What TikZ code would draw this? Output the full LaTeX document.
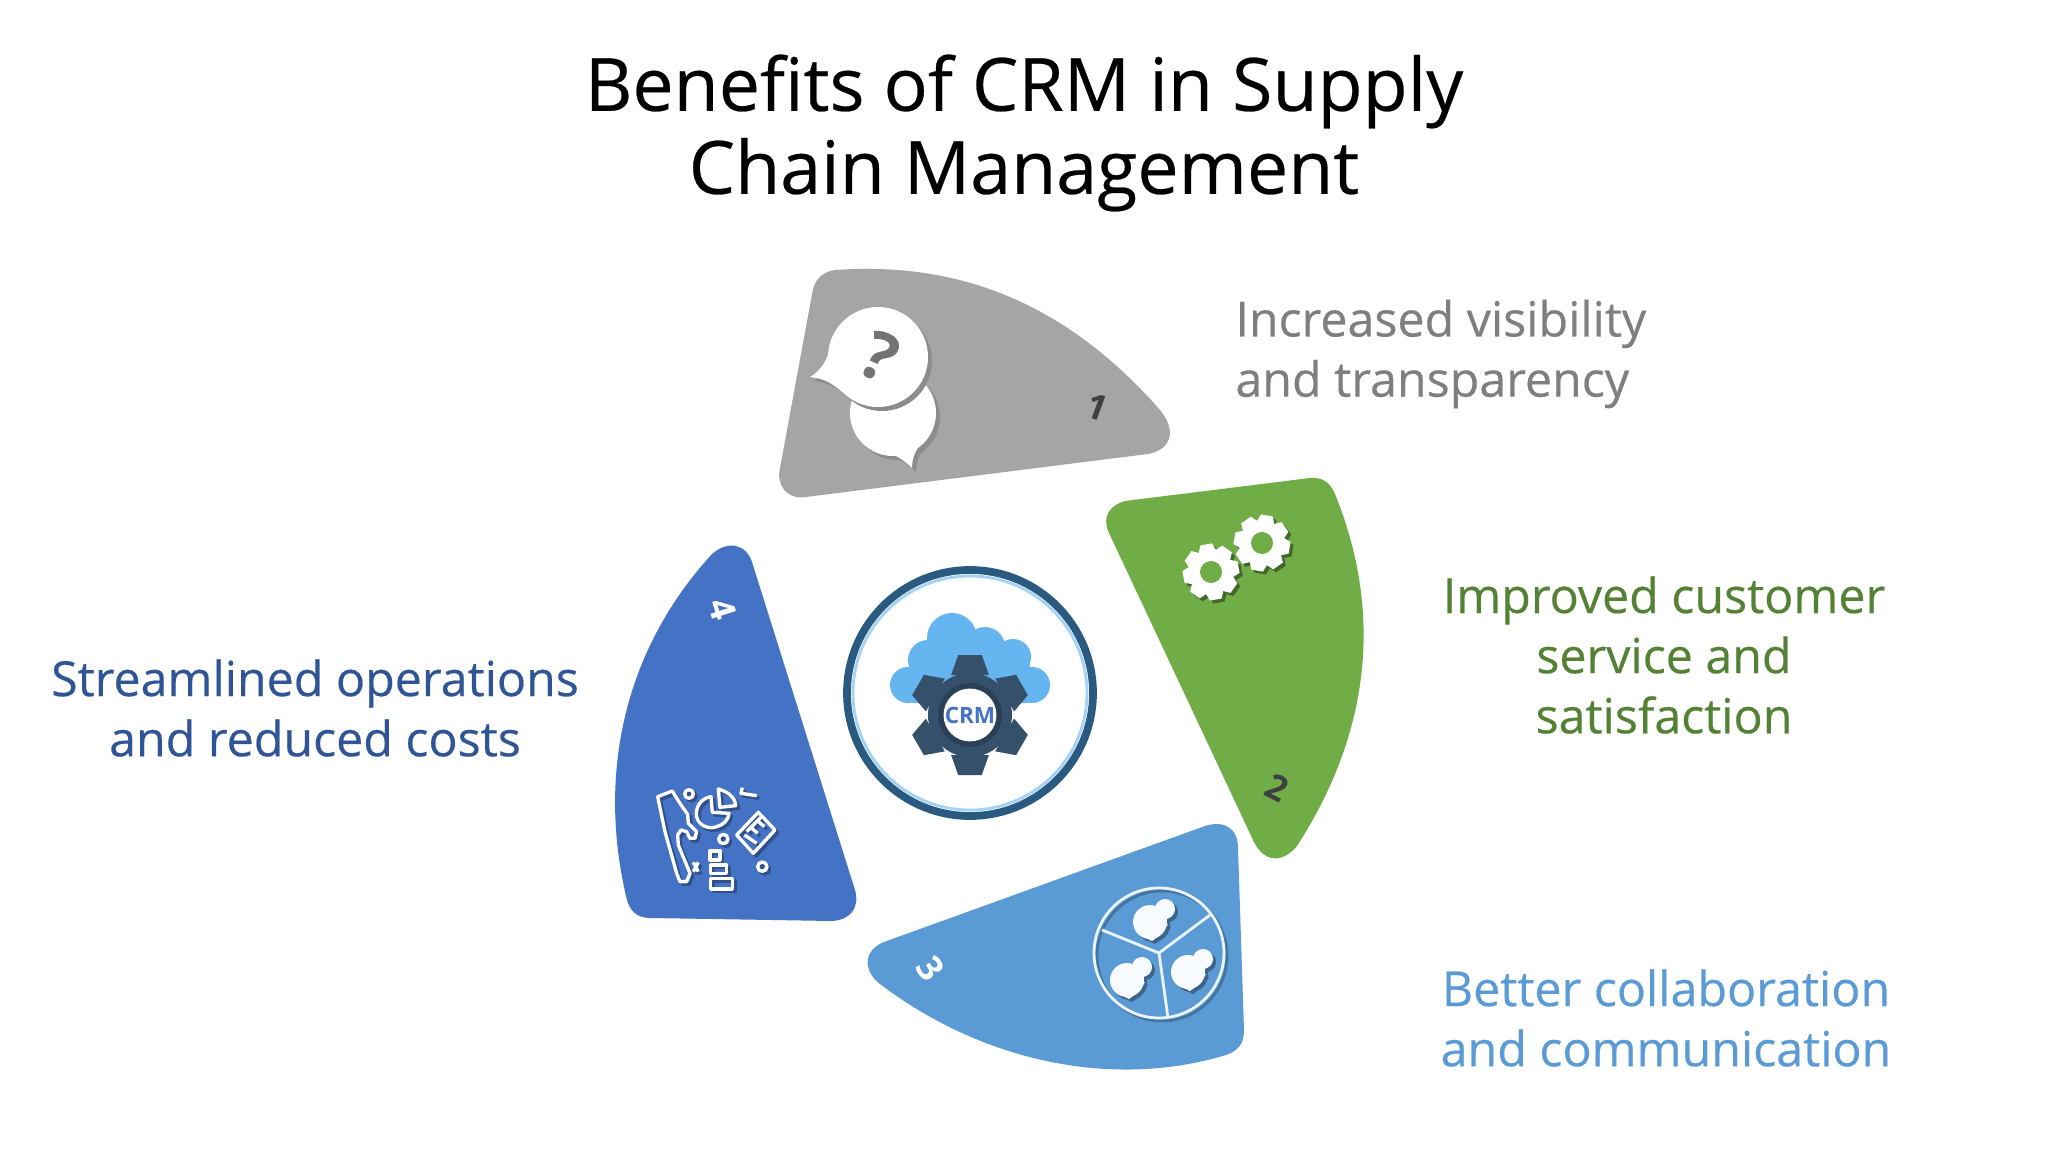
\documentclass[tikz,border=0pt]{standalone}
\usepackage{fontspec}
\setmainfont{Open Sans}
\newfontfamily\heavyfont{Open Sans}[FakeBold=0.35]
\usepackage{xcolor}
\definecolor{greyblade}{HTML}{A5A5A5}
\definecolor{greenblade}{HTML}{70AD47}
\definecolor{skyblade}{HTML}{5B9BD5}
\definecolor{navyblade}{HTML}{4472C4}
\definecolor{greytext}{HTML}{7F7F7F}
\definecolor{greentext}{HTML}{548235}
\definecolor{skytext}{HTML}{5B9BD5}
\definecolor{navytext}{HTML}{2F5597}
\definecolor{ringcol}{HTML}{2A5A80}
\definecolor{gearcol}{HTML}{34506B}
\definecolor{cloudcol}{HTML}{64B5F0}
\tikzset{
  labeltext/.style={align=center, font=\heavyfont\fontsize{13.75}{17.1}\selectfont},
  numtext/.style={font=\bfseries\fontsize{10}{12}\selectfont, inner sep=0pt},
  iconline/.style={line width=0.95pt, line join=round},
}
% x, y, outer radius, root radius, start angle, teeth, colour
\newcommand{\wheelicon}[7]{
  \pgfmathsetmacro{\wheelstep}{360/#6}
  \fill[#7] (#1,#2) circle (#4);
  \foreach \i in {1,...,#6} {
    \fill[#7, shift={(#1,#2)}, rotate=#5+\i*\wheelstep] (#4-2,-#4*0.45) -- (#3,-#4*0.28) -- (#3,#4*0.28) -- (#4-2,#4*0.45) -- cycle;
  }
}
\begin{document}
\begin{tikzpicture}[x=0.01cm, y=-0.01cm]
\useasboundingbox (0,0) rectangle (2048,1152);
\fill[white] (0,0) rectangle (2048,1152);

\node[font=\heavyfont\fontsize{20.9}{23.6}\selectfont, align=center] (title) at (1024,133) {Benefits of CRM in Supply\\Chain Management};

% blades
\fill[greyblade] (836,270) .. controls (950,262) and (1060,296) .. (1160,410)
  .. controls (1178,432) and (1170,450) .. (1148,454) -- (806,497)
  .. controls (786,500) and (776,484) .. (780,468) -- (813,289)
  .. controls (816,278) and (824,271) .. (836,270) -- cycle;
\fill[greenblade] (1125,501) -- (1310,478) .. controls (1322,477) and (1330,482) .. (1335,494)
  .. controls (1378,600) and (1378,720) .. (1297,846)
  .. controls (1282,864) and (1264,862) .. (1254,842) -- (1109,533)
  .. controls (1102,518) and (1108,506) .. (1125,501) -- cycle;
\fill[skyblade] (1205,826) .. controls (1224,820) and (1238,828) .. (1238,848) -- (1244,1030)
  .. controls (1244,1044) and (1238,1051) .. (1226,1055)
  .. controls (1110,1090) and (980,1060) .. (880,984)
  .. controls (862,970) and (864,950) .. (884,942) -- (1205,826) -- cycle;
\fill[navyblade] (712,554) .. controls (728,540) and (746,544) .. (752,562) -- (855,890)
  .. controls (860,908) and (850,920) .. (832,921) -- (650,918)
  .. controls (636,918) and (630,910) .. (627,900)
  .. controls (600,790) and (615,660) .. (712,554) -- cycle;

% numbers
\node[numtext, text=black!75, rotate=-20] (numone) at (1097,407) {1};
\node[numtext, text=black!75, rotate=-27] (numtwo) at (1277,788) {2};
\node[numtext, text=white, rotate=-55] (numthree) at (931,969) {3};
\node[numtext, text=white, rotate=-72] (numfour) at (723,609) {4};

% labels
\node[labeltext, text=greytext, align=left, anchor=west] (lblone) at (1223,354) {Increased visibility\\and transparency};
\node[labeltext, text=greentext] (lbltwo) at (1664,655) {Improved customer\\service and\\satisfaction};
\node[labeltext, text=skytext] (lblthree) at (1666,1018) {Better collaboration\\and communication};
\node[labeltext, text=navytext] (lblfour) at (315,708) {Streamlined operations\\and reduced costs};

% centre badge
\fill[white] (970,693) circle (127);
\draw[ringcol, line width=2.2pt] (970,693) circle (123);
\draw[cloudcol!60, line width=0.8pt] (970,693) circle (117);
\foreach \cx/\cy/\cr in {952/638/25, 985/647/20, 1013/657/18, 1032/685/18, 908/685/18, 928/660/20} {
  \fill[cloudcol] (\cx,\cy) circle (\cr);
}
\fill[cloudcol] (912,660) rectangle (1030,703);
\wheelicon{970}{715}{60}{42}{-90}{6}{gearcol}
\fill[gearcol!80!black] (970,715) circle (32);
\node[circle, fill=white, minimum size=0.46cm, inner sep=0pt, text=navyblade, font=\bfseries\fontsize{6.4}{7}\selectfont] (crm) at (970,715) {CRM};

% bubbles
\foreach \col/\off in {black!45/4, white/0} {
  \fill[\col, shift={(\off,\off)}] (893,413) circle (43);
  \fill[\col, shift={(\off,\off)}] (880,450) .. controls (896,454) and (906,462) .. (912,468) .. controls (912,460) and (914,452) .. (922,442) -- cycle;
}
\foreach \col/\off in {black!45/4, white/0} {
  \fill[\col, shift={(\off,\off)}] (878,357) circle (50);
  \fill[\col, shift={(\off,\off)}] (832,338) .. controls (830,358) and (820,372) .. (810,377) .. controls (820,378) and (830,381) .. (842,392) -- cycle;
}
\node[font=\bfseries\fontsize{19}{20}\selectfont, text=black!55, rotate=-25, inner sep=0pt] (ask) at (880,357) {?};

% gears
\foreach \col/\off in {greenblade!60!black/3, white/0} {
  \wheelicon{1211+\off}{572+\off}{28}{21}{10}{8}{\col}
  \wheelicon{1262+\off}{543+\off}{28}{21}{-10}{8}{\col}
}
\fill[greenblade] (1211,572) circle (11);
\fill[greenblade] (1262,543) circle (11);

% team wheel
\draw[skyblade!75!black, line width=0.8pt] (1162,956) circle (65);
\draw[white!88!skyblade, line width=0.8pt] (1159,953) circle (65);
\draw[white!88!skyblade, line width=0.8pt] (1102,930) -- (1159,953) -- (1210,915) (1159,953) -- (1168,1018);
\foreach \col/\off in {skyblade!65!black/3, white!96!skyblade/0} {
  \foreach \px/\py in {1150/922, 1127/980, 1188/972} {
    \fill[\col, shift={(\off,\off)}] (\px+15,\py-13) circle (10);
    \fill[\col, shift={(\off,\off)}] (\px,\py) circle (17);
    \fill[\col, shift={(\off,\off)}] (\px-16,\py+5) .. controls (\px-8,\py+12) and (\px-4,\py+17) .. (\px+2,\py+19) .. controls (\px+8,\py+15) and (\px+14,\py+9) .. (\px+18,\py+2) -- cycle;
    \fill[\col, shift={(\off,\off)}] (\px+4,\py-16) -- (\px+18,\py-6) -- (\px+14,\py+8) -- (\px,\py) -- cycle;
  }
}

% hand and chart
\foreach \col/\off in {navyblade!70!black/8, white/0} {
\begin{scope}[shift={(645,775)}, scale=0.3333, shift={(\off,\off)}]
  \draw[\col, iconline] (38,65) -- (82,48) -- (105,85) -- (128,118) -- (130,145) -- (155,170) -- (150,190) -- (135,190) -- (125,170) -- (108,165) -- (98,180) -- (100,210) -- (135,295) -- (125,320) -- (105,320) -- (95,295) -- (60,170) -- cycle;
  \draw[\col, iconline] (132,57) circle (13) (235,192) circle (14) (352,275) circle (14);
  \draw[\col, iconline] (198,65) .. controls (165,70) and (150,100) .. (155,125) .. controls (160,150) and (190,165) .. (215,155) .. controls (235,150) and (250,135) .. (252,115) -- (202,112) -- cycle;
  \draw[\col, iconline] (220,42) .. controls (250,50) and (272,70) .. (272,92) -- (225,97) -- cycle;
  \draw[\col, iconline] (292,38) -- (288,55) -- (335,62);
  \draw[\col, iconline] (145,262) -- (160,290) (160,262) -- (145,290);
  \draw[\col, iconline] (195,228) rectangle (225,255) (197,270) rectangle (245,295) (197,310) rectangle (262,342);
  \draw[\col, iconline] (340,112) -- (390,165) -- (325,235) -- (275,180) -- cycle;
  \draw[\col, iconline] (298,180) -- (335,205) (318,158) -- (338,175) (338,138) -- (358,155) (305,170) -- (350,125);
\end{scope}
}
\end{tikzpicture}
\end{document}
